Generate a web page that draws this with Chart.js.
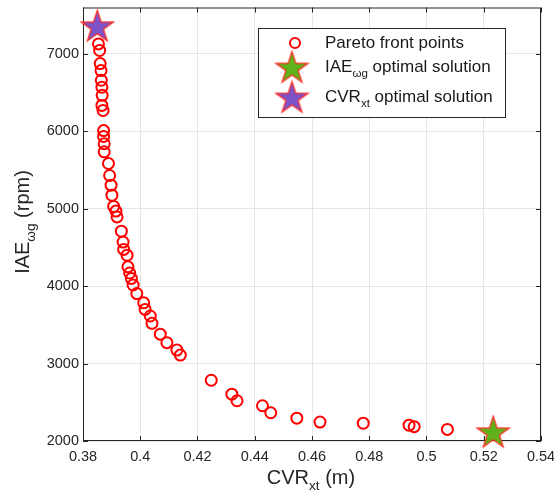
<!DOCTYPE html>
<html>
<head>
<meta charset="utf-8">
<script src="https://cdn.jsdelivr.net/npm/chart.js@4"></script>
<style>
  html, body { margin: 0; padding: 0; background: #fff; }
  #wrap { width: 554px; height: 495px; }
</style>
</head>
<body>
<div id="wrap"><canvas id="paretoChart"></canvas></div>
<script>
// Pareto front values
const paretoX = [0.3854, 0.3858, 0.3860, 0.3863, 0.3864, 0.3866, 0.3867, 0.3866, 0.3870, 0.3872,
    0.3872, 0.3874, 0.3874, 0.3889, 0.3893, 0.3898, 0.3901, 0.3907, 0.3915, 0.3919,
    0.3934, 0.3940, 0.3942, 0.3954, 0.3957, 0.3963, 0.3969, 0.3975, 0.3988, 0.4012,
    0.4017, 0.4035, 0.4041, 0.4070, 0.4093, 0.4128, 0.4140, 0.4248, 0.4320, 0.4338,
    0.4427, 0.4456, 0.4547, 0.4628, 0.4779, 0.4939, 0.4957, 0.5073];
const paretoY = [7130, 7045, 6875, 6785, 6660, 6570, 6465, 6335, 6270, 6010,
    5935, 5840, 5735, 5585, 5430, 5305, 5175, 5030, 4970, 4895,
    4710, 4570, 4475, 4400, 4250, 4170, 4100, 4015, 3905, 3785,
    3700, 3615, 3520, 3380, 3270, 3175, 3110, 2785, 2605, 2520,
    2455, 2365, 2295, 2245, 2230, 2205, 2185, 2150];

const iaeOptX = [0.5233];
const iaeOptY = [2120];
const cvrOptX = [0.3850];
const cvrOptY = [7365];

const xTicks = [0.38, 0.4, 0.42, 0.44, 0.46, 0.48, 0.5, 0.52, 0.54];
const yTicks = [2000, 3000, 4000, 5000, 6000, 7000];

const toPoints = (xs, ys) => xs.map((x, i) => ({ x: x, y: ys[i] }));

// pentagram marker image
function makeStar(size, fill) {
    const c = document.createElement('canvas');
    c.width = size; c.height = size;
    const g = c.getContext('2d');
    const R = size / 2 - 1.5, r = R * 0.382, cx = size / 2, cy = size / 2 + R * 0.09;
    g.beginPath();
    for (let i = 0; i < 10; i++) {
        const a = -Math.PI / 2 + i * Math.PI / 5;
        const rad = i % 2 === 0 ? R : r;
        const px = cx + rad * Math.cos(a), py = cy + rad * Math.sin(a);
        if (i === 0) g.moveTo(px, py); else g.lineTo(px, py);
    }
    g.closePath();
    g.fillStyle = fill;
    g.fill();
    g.strokeStyle = '#ff2a1f';
    g.lineWidth = 1.2;
    g.stroke();
    return c;
}
const greenStar = makeStar(37, '#5fb21c');
const purpleStar = makeStar(37, '#7d52c9');

const axisColor = '#262626';
const textColor = '#262626';
const fontFam = '"Liberation Sans", Arial, sans-serif';

// draws text with a subscript part
function subText(g, parts, x, y, size) {
    let cx = x;
    parts.forEach(p => {
        const fs = p.sub ? size * 0.68 : size;
        g.font = fs + 'px ' + fontFam;
        g.fillText(p.t, cx, p.sub ? y + size * 0.42 : y);
        cx += g.measureText(p.t).width;
    });
    return cx;
}
function textWidth(g, parts, size) {
    let w = 0;
    parts.forEach(p => {
        g.font = (p.sub ? size * 0.68 : size) + 'px ' + fontFam;
        w += g.measureText(p.t).width;
    });
    return w;
}

const decorPlugin = {
    id: 'decor',
    beforeDatasetsDraw(chart) {
        const g = chart.ctx, a = chart.chartArea;
        const xs = chart.scales.x, ys = chart.scales.y;
        g.save();
        // box + inward ticks
        g.strokeStyle = axisColor;
        g.lineWidth = 1;
        g.strokeRect(a.left + 0.5, a.top + 0.5, a.right - a.left - 1, a.bottom - a.top - 1);
        g.beginPath();
        xTicks.forEach(v => {
            const px = Math.round(xs.getPixelForValue(v)) + 0.5;
            g.moveTo(px, a.bottom); g.lineTo(px, a.bottom - 5);
            g.moveTo(px, a.top); g.lineTo(px, a.top + 5);
        });
        yTicks.forEach(v => {
            const py = Math.round(ys.getPixelForValue(v)) + 0.5;
            g.moveTo(a.left, py); g.lineTo(a.left + 5, py);
            g.moveTo(a.right, py); g.lineTo(a.right - 5, py);
        });
        g.stroke();
        g.restore();
    },
    afterDraw(chart) {
        const g = chart.ctx;
        g.save();
        g.fillStyle = textColor;
        g.textBaseline = 'middle';
        g.textAlign = 'left';

        // x title
        const xt = [{ t: 'CVR' }, { t: 'xt', sub: true }, { t: ' (m)' }];
        subText(g, xt, 311 - textWidth(g, xt, 20) / 2, 478, 20);

        // y title
        const yt = [{ t: 'IAE' }, { t: 'ωg', sub: true }, { t: ' (rpm)' }];
        g.save();
        g.translate(23, 222);
        g.rotate(-Math.PI / 2);
        subText(g, yt, -textWidth(g, yt, 20) / 2, 0, 20);
        g.restore();

        // legend
        g.fillStyle = '#fff';
        g.fillRect(258, 28, 247, 89);
        g.strokeStyle = axisColor;
        g.lineWidth = 1;
        g.strokeRect(258.5, 28.5, 247, 89);

        g.beginPath();
        g.arc(295, 43, 5, 0, Math.PI * 2);
        g.strokeStyle = '#ff0000';
        g.lineWidth = 2;
        g.stroke();
        g.drawImage(greenStar, 292 - 18.5, 67 - 18.5);
        g.drawImage(purpleStar, 292 - 18.5, 97 - 18.5);

        g.fillStyle = '#1a1a1a';
        subText(g, [{ t: 'Pareto front points' }], 325, 43, 17);
        subText(g, [{ t: 'IAE' }, { t: 'ωg', sub: true }, { t: ' optimal solution' }], 325, 67, 17);
        subText(g, [{ t: 'CVR' }, { t: 'xt', sub: true }, { t: ' optimal solution' }], 325, 97, 17);
        g.restore();
    }
};

const ctx = document.getElementById('paretoChart').getContext('2d');
new Chart(ctx, {
    type: 'scatter',
    data: {
        datasets: [{
            label: 'IAE optimal solution',
            data: toPoints(iaeOptX, iaeOptY),
            pointStyle: greenStar,
            clip: false,
            order: 0
        }, {
            label: 'CVR optimal solution',
            data: toPoints(cvrOptX, cvrOptY),
            pointStyle: purpleStar,
            clip: false,
            order: 0
        }, {
            label: 'Pareto front points',
            data: toPoints(paretoX, paretoY),
            pointStyle: 'circle',
            pointRadius: 5.5,
            borderWidth: 2,
            borderColor: '#ff0000',
            backgroundColor: 'rgba(0,0,0,0)',
            order: 1
        }]
    },
    options: {
        responsive: true,
        maintainAspectRatio: false,
        animation: false,
        layout: { padding: { left: 0, right: 13, top: 7, bottom: 0 } },
        scales: {
            x: {
                type: 'linear',
                min: 0.38,
                max: 0.54,
                afterBuildTicks: s => { s.ticks = xTicks.map(v => ({ value: v })); },
                afterFit: s => { s.height = 54; s.paddingLeft = 0; s.paddingRight = 0; },
                grid: { color: '#e6e6e6', drawTicks: false },
                border: { display: false },
                ticks: {
                    padding: 7,
                    color: textColor,
                    font: { family: fontFam, size: 14.5 },
                    maxRotation: 0,
                    callback: v => String(Number(v.toFixed(2)))
                }
            },
            y: {
                type: 'linear',
                min: 2000,
                max: 7600,
                afterBuildTicks: s => { s.ticks = yTicks.map(v => ({ value: v })); },
                afterFit: s => { s.width = 83; s.paddingTop = 0; s.paddingBottom = 0; },
                grid: { color: '#e6e6e6', drawTicks: false },
                border: { display: false },
                ticks: {
                    padding: 4,
                    color: textColor,
                    font: { family: fontFam, size: 14.5 },
                    callback: v => String(v)
                }
            }
        },
        plugins: {
            legend: { display: false },
            tooltip: { enabled: false }
        }
    },
    plugins: [decorPlugin]
});
</script>
</body>
</html>
